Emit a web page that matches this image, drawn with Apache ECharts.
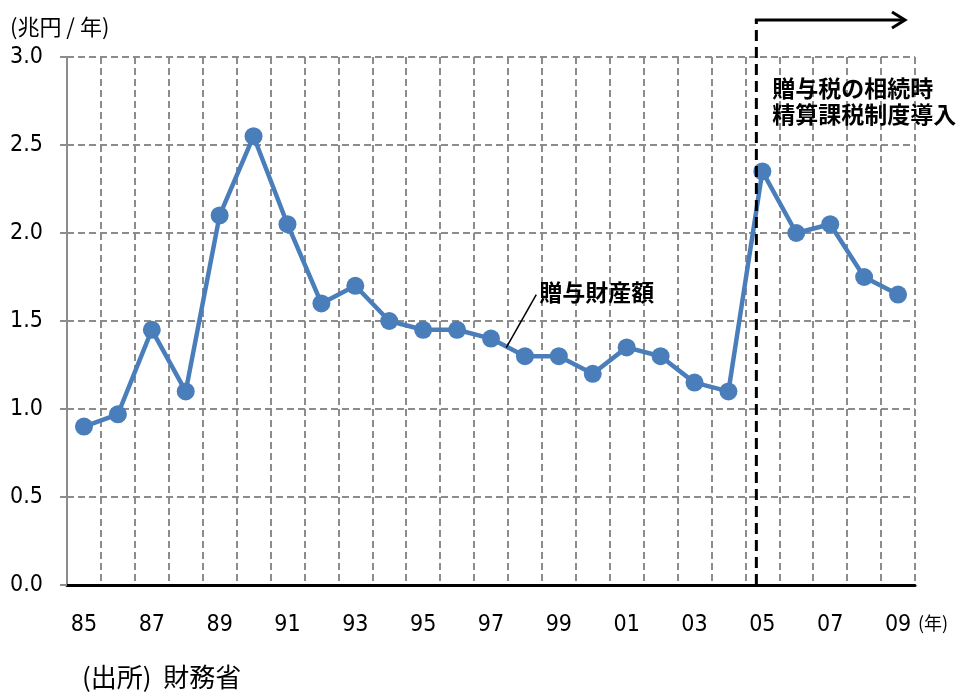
<!DOCTYPE html>
<html><head><meta charset="utf-8">
<script src="https://cdn.jsdelivr.net/npm/echarts@6/dist/echarts.min.js"></script>
<style>html,body{margin:0;padding:0;background:#fff}#c{width:961px;height:693px}</style>
</head><body><div id="c"></div>
<script>
const years = ['85','86','87','88','89','90','91','92','93','94','95','96','97','98','99','00','01','02','03','04','05','06','07','08','09'];
const giftAssets = [0.9,0.97,1.45,1.1,2.1,2.55,2.05,1.6,1.7,1.5,1.45,1.45,1.4,1.3,1.3,1.2,1.35,1.3,1.15,1.1,2.35,2.0,2.05,1.75,1.65];
const yTicks = [0, 0.5, 1.0, 1.5, 2.0, 2.5, 3.0];
const seriesName = '贈与財産額';
const unitLabel = '(兆円 / 年)';
const yearUnit = '(年)';
const noteText = '贈与税の相続時\n精算課税制度導入';
const sourceText = '(出所)  財務省';

// detect a narrow font
function hasFont(name) {
  const c = document.createElement('canvas').getContext('2d');
  c.font = '40px monospace'; const a = c.measureText('8585.0 abcxyz').width;
  c.font = '40px "' + name + '", monospace'; const b = c.measureText('8585.0 abcxyz').width;
  c.font = '40px serif'; const a2 = c.measureText('8585.0 abcxyz').width;
  c.font = '40px "' + name + '", serif'; const b2 = c.measureText('8585.0 abcxyz').width;
  return a !== b || a2 !== b2;
}
let numFont, numSize;
if (hasFont('Liberation Sans Narrow')) { numFont = '"Liberation Sans Narrow",sans-serif'; numSize = 26; }
else if (hasFont('DejaVu Sans Condensed')) { numFont = '"DejaVu Sans Condensed",sans-serif'; numSize = 23; }
else { numFont = '"Liberation Sans",sans-serif'; numSize = 23; }
const cjkFont = '"Noto Sans CJK JP","Liberation Sans",sans-serif';

const chart = echarts.init(document.getElementById('c'));
chart.setOption({
  animation: false,
  backgroundColor: '#fff',
  grid: {left: 67, right: 46, top: 57, bottom: 108, containLabel: false},
  xAxis: {
    type: 'category', data: years, boundaryGap: true,
    axisLine: {show: true, lineStyle: {color: '#000', width: 3}},
    axisTick: {show: false},
    axisLabel: {interval: 1, margin: 29, fontSize: numSize, color: '#000', fontFamily: numFont},
    splitLine: {show: true, interval: 0, lineStyle: {color: '#8c8c8c', width: 2, type: [7, 4]}}
  },
  yAxis: {
    type: 'value', min: 0, max: 3, interval: 0.5,
    axisLine: {show: true, lineStyle: {color: '#8c8c8c', width: 2}},
    axisTick: {show: true, length: 7, lineStyle: {color: '#8c8c8c', width: 2}},
    axisLabel: {fontSize: numSize, color: '#000', margin: 24, fontFamily: numFont,
      formatter: v => yTicks.includes(v) ? v.toFixed(1) : ''},
    splitLine: {show: true, lineStyle: {color: '#8c8c8c', width: 2, type: [7, 4]}}
  },
  series: [{
    name: seriesName, type: 'line', data: giftAssets,
    symbol: 'circle', symbolSize: 18,
    lineStyle: {color: '#4a7ebb', width: 4.5},
    itemStyle: {color: '#4a7ebb'},
    z: 5
  }]
});

function draw() {
  const p05 = chart.convertToPixel({xAxisIndex: 0, yAxisIndex: 0}, ['05', 0]);
  const xv = p05[0] - 6;
  const yBottom = p05[1];
  const yTop = 20;
  const pa = chart.convertToPixel({xAxisIndex: 0, yAxisIndex: 0}, ['97', giftAssets[12]]);
  const pb = chart.convertToPixel({xAxisIndex: 0, yAxisIndex: 0}, ['98', giftAssets[13]]);
  const sx = pa[0] + (pb[0] - pa[0]) * 0.45, sy = pa[1] + (pb[1] - pa[1]) * 0.45 + 1;
  chart.setOption({
    graphic: [
      {type: 'text', left: 10, top: 16, style: {text: unitLabel, font: '22px ' + cjkFont, fill: '#000'}},
      {type: 'line', z: 10, shape: {x1: xv, y1: yBottom, x2: xv, y2: yTop}, style: {stroke: '#000', lineWidth: 3, lineDash: [11, 6]}},
      {type: 'line', z: 10, shape: {x1: xv - 1.5, y1: yTop, x2: 904, y2: yTop}, style: {stroke: '#000', lineWidth: 3}},
      {type: 'polyline', z: 10, shape: {points: [[892, 12], [905, yTop], [892, 28]]}, style: {stroke: '#000', lineWidth: 3, fill: null}},
      {type: 'text', z: 10, left: xv + 16, top: 75, style: {text: noteText, font: 'bold 23px ' + cjkFont, fill: '#000', lineHeight: 26}},
      {type: 'line', z: 10, shape: {x1: sx, y1: sy, x2: sx + 30, y2: sy - 53}, style: {stroke: '#000', lineWidth: 1.5}},
      {type: 'text', z: 10, left: sx + 33, top: sy - 67, style: {text: seriesName, font: 'bold 23px ' + cjkFont, fill: '#000'}},
      {type: 'text', left: 918, top: 614, style: {text: yearUnit, font: '18px ' + cjkFont, fill: '#000'}},
      {type: 'text', left: 82, top: 664, style: {text: sourceText, font: '26px ' + cjkFont, fill: '#000'}}
    ]
  });
}
draw();
</script></body></html>
